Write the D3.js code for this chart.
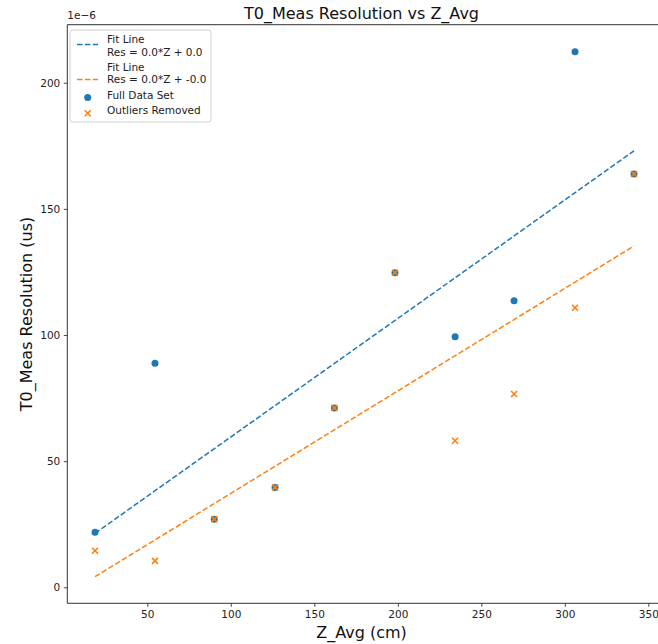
<!DOCTYPE html>
<html>
<head>
<meta charset="utf-8">
<script src="https://cdn.jsdelivr.net/npm/d3@7"></script>
<style>
  html, body { margin: 0; padding: 0; background: #fff; }
  svg { display: block; font-family: "DejaVu Sans", sans-serif; }
</style>
</head>
<body>
<svg id="chart" width="658" height="644"></svg>
<script>
// ---- data (values in units of 1e-6 us) ----
const zAvg = [18.7, 54.6, 90.1, 126.5, 162.0, 198.3, 234.3, 269.6, 306.1, 341.4];
const resFull = [21.8, 88.8, 27.0, 39.6, 71.1, 124.7, 99.3, 113.6, 212.3, 163.8];
const resOutliersRemoved = [14.5, 10.5, 27.0, 39.6, 71.1, 124.7, 58.1, 76.6, 110.8, 163.8];
const fitZ = [18.7, 341.4];
const fitFull = [21.4, 173.0];
const fitRemoved = [4.2, 135.3];
const xTicks = [50, 100, 150, 200, 250, 300, 350];
const yTicks = [0, 50, 100, 150, 200];
const legendLabels = [["Fit Line", "Res = 0.0*Z + 0.0"], ["Fit Line", "Res = 0.0*Z + -0.0"], ["Full Data Set"], ["Outliers Removed"]];

(function () {
const BLUE = "#1f77b4", ORANGE = "#ff7f0e";
const svg = d3.select("#chart");

const pL = 67.3, pR = 661.7, pT = 24.7, pB = 603.3;
const x = d3.scaleLinear().domain([2.1, 358]).range([pL, pR]);
const y = d3.scaleLinear().domain([-6.34, 223]).range([pB, pT]);

// axes
const xAxis = svg.append("g").attr("transform", `translate(0,${pB})`)
  .call(d3.axisBottom(x).tickValues(xTicks).tickSize(3.5).tickPadding(3.5).tickFormat(d3.format("d")));
const yAxis = svg.append("g").attr("transform", `translate(${pL},0)`)
  .call(d3.axisLeft(y).tickValues(yTicks).tickSize(3.5).tickPadding(3.5).tickFormat(d3.format("d")));
[xAxis, yAxis].forEach(g => {
  g.select(".domain").remove();
  g.selectAll(".tick line").attr("stroke", "#333").attr("stroke-width", 0.9);
  g.selectAll(".tick text").attr("fill", "#222").style("font-size", "10.5px").style("font-family", "DejaVu Sans");
});

// spines
const spine = svg.append("g").attr("stroke", "#333").attr("stroke-width", 1).attr("fill", "none");
spine.append("line").attr("x1", pL).attr("x2", pL).attr("y1", pT).attr("y2", pB);
spine.append("line").attr("x1", pL).attr("x2", pR).attr("y1", pB).attr("y2", pB);
spine.append("line").attr("x1", pL).attr("x2", pR).attr("y1", pT).attr("y2", pT);
spine.append("line").attr("x1", pR).attr("x2", pR).attr("y1", pT).attr("y2", pB);

// scatter: full data set
svg.append("g").selectAll("circle").data(zAvg).join("circle")
  .attr("cx", (d) => x(d)).attr("cy", (d, i) => y(resFull[i]))
  .attr("r", 3.5).attr("fill", BLUE);

// scatter: outliers removed (x markers)
const xm = svg.append("g").attr("stroke", ORANGE).attr("stroke-width", 1.6);
zAvg.forEach((d, i) => {
  const cx = x(d), cy = y(resOutliersRemoved[i]), s = 3;
  xm.append("path").attr("d", `M${cx - s},${cy - s}L${cx + s},${cy + s}M${cx - s},${cy + s}L${cx + s},${cy - s}`);
});

// fit lines
const line = d3.line().x(d => x(d[0])).y(d => y(d[1]));
svg.append("path").datum(fitZ.map((d, i) => [d, fitFull[i]])).attr("d", line)
  .attr("fill", "none").attr("stroke", BLUE).attr("stroke-width", 1.5).attr("stroke-dasharray", "5.5,2.4");
svg.append("path").datum(fitZ.map((d, i) => [d, fitRemoved[i]])).attr("d", line)
  .attr("fill", "none").attr("stroke", ORANGE).attr("stroke-width", 1.5).attr("stroke-dasharray", "5.5,2.4");

// offset text
svg.append("text").attr("x", pL).attr("y", 19).text("1e\u22126")
  .style("font-size", "10.5px").attr("fill", "#222");

// title & labels
svg.append("text").attr("x", (pL + pR) / 2 - 3).attr("y", 19).attr("text-anchor", "middle")
  .text("T0_Meas Resolution vs Z_Avg").style("font-size", "16px").attr("fill", "#111");
svg.append("text").attr("x", (pL + pR) / 2 - 3).attr("y", 638).attr("text-anchor", "middle")
  .text("Z_Avg (cm)").style("font-size", "16px").attr("fill", "#111");
svg.append("text").attr("transform", `translate(32,${(pT + pB) / 2}) rotate(-90)`).attr("text-anchor", "middle")
  .text("T0_Meas Resolution (us)").style("font-size", "16px").attr("fill", "#111");

// legend
const lg = svg.append("g");
lg.append("rect").attr("x", 70).attr("y", 30).attr("width", 141).attr("height", 92).attr("rx", 2.5)
  .attr("fill", "#fff").attr("fill-opacity", 0.8).attr("stroke", "#d0d0d0").attr("stroke-width", 1);
const lt = (txt, yy) => lg.append("text").attr("x", 107).attr("y", yy).text(txt).style("font-size", "10.5px").attr("fill", "#222");
lt(legendLabels[0][0], 42.8); lt(legendLabels[0][1], 55.5);
lt(legendLabels[1][0], 71.3); lt(legendLabels[1][1], 83.2);
lt(legendLabels[2][0], 98.8); lt(legendLabels[3][0], 114);
lg.append("line").attr("x1", 77).attr("x2", 98).attr("y1", 44.5).attr("y2", 44.5)
  .attr("stroke", BLUE).attr("stroke-width", 1.5).attr("stroke-dasharray", "5.5,2.4");
lg.append("line").attr("x1", 77).attr("x2", 98).attr("y1", 79.5).attr("y2", 79.5)
  .attr("stroke", ORANGE).attr("stroke-width", 1.5).attr("stroke-dasharray", "5.5,2.4");
lg.append("circle").attr("cx", 87.7).attr("cy", 97.5).attr("r", 3.5).attr("fill", BLUE);
lg.append("path").attr("d", "M84.7,110.3L90.7,116.3M84.7,116.3L90.7,110.3").attr("stroke", ORANGE).attr("stroke-width", 1.6);
})();
</script>
</body>
</html>
